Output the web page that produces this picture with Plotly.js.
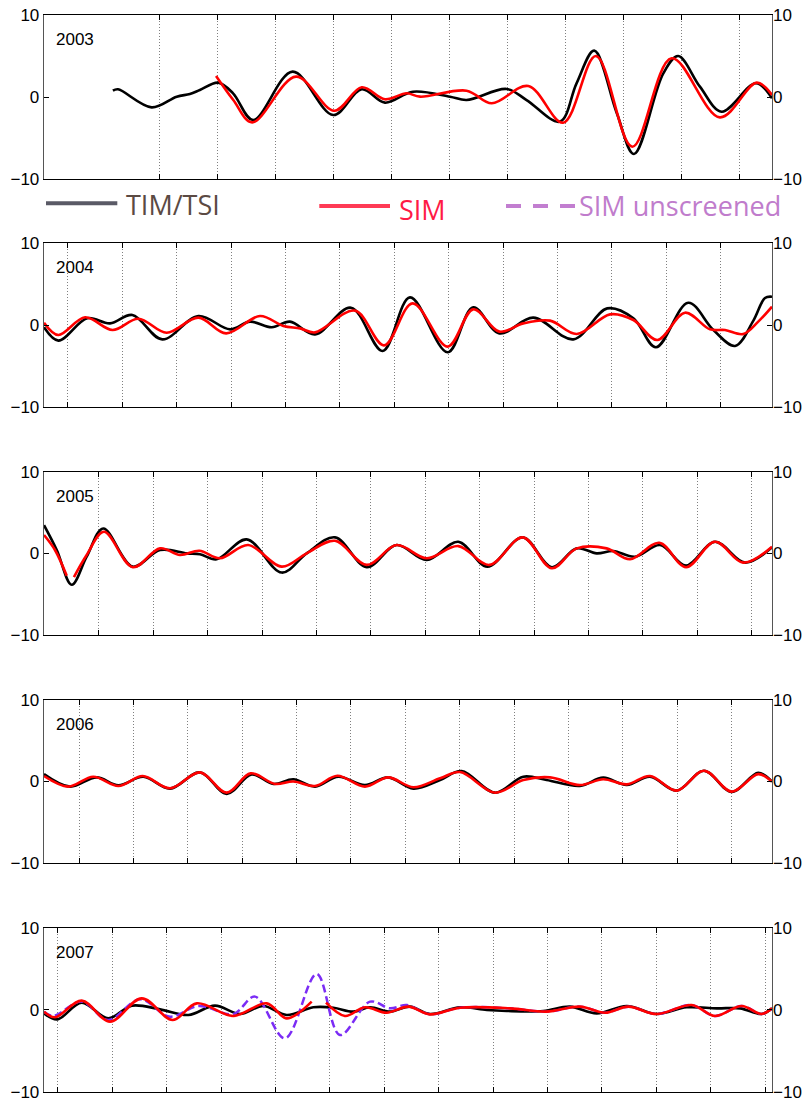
<!DOCTYPE html>
<html>
<head>
<meta charset="utf-8">
<script src="https://cdn.plot.ly/plotly-3.0.1.min.js"></script>
<style>
  html, body { margin: 0; padding: 0; background: #fff; }
  #chart { width: 805px; height: 1101px; }
</style>
</head>
<body>
<div id="chart"></div>
<script>
// Filtered irradiance residuals per year: TIM/TSI vs SIM (and unscreened SIM for 2007).
// x = day within the plotted window, y = residual.

const years = ['2003', '2004', '2005', '2006', '2007'];
const seriesNames = ['TIM/TSI', 'SIM', 'SIM unscreened'];
const yTickVals = [-10, 0, 10];
const yTickText = ['\u221210', '0', '10'];

// 2003
const timDays2003 = [32.4, 34.8, 50.6, 62.4, 68.6, 73.3, 81.9, 88.9, 98.3, 116.9, 136.0, 149.4, 160.3, 173.5, 190.9, 198.7, 217.5, 226.9, 242.6, 250.4, 258.7, 269.3, 277.4, 291.2, 298.2, 308.4, 318.6, 334.7, 342.3];
const timVals2003 = [0.77, 0.94, -1.26, 0.04, 0.37, 0.85, 1.75, 0.45, -2.8, 3.09, -2.2, 0.94, -0.69, 0.65, 0.04, -0.37, 0.98, -0.37, -3.0, 1.67, 5.65, -1.96, -6.95, 2.89, 5.0, 1.26, -1.79, 1.67, -0.16];
const simDays2003 = [80.9, 89.0, 97.9, 118.5, 136.5, 149.4, 160.3, 170.5, 176.8, 198.7, 210.5, 227.7, 244.1, 259.5, 276.6, 295.1, 317.8, 335.1, 342.3];
const simVals2003 = [2.56, -0.37, -3.09, 2.48, -1.67, 1.18, -0.28, 0.45, 0.04, 0.77, -0.77, 1.34, -3.13, 5.0, -6.06, 4.72, -2.48, 1.75, 0.24];

// 2004
const timDays2004 = [0, 7.2, 21.7, 33.1, 44.3, 59.3, 77.4, 93.3, 103.3, 114.2, 123.3, 135.9, 153.9, 169.8, 183.5, 202.4, 215.2, 228.3, 245.3, 265.4, 282.4, 295.5, 306.8, 323.0, 335.6, 346.5, 355.6, 361.5, 365];
const timVals2004 = [-0.28, -1.91, 0.82, 0.2, 1.22, -1.75, 1.1, -0.53, 0.41, -0.28, 0.41, -1.14, 2.11, -3.17, 3.37, -3.33, 2.16, -1.02, 0.9, -1.75, 2.03, 0.82, -2.72, 2.72, -0.61, -2.56, 0.5, 3.3, 3.45];
const simDays2004 = [0, 7.2, 20.6, 34.4, 47.3, 61.5, 77.4, 91.3, 108.3, 120.0, 128.4, 135.9, 155.9, 170.5, 184.8, 202.4, 215.2, 228.3, 240.3, 253.7, 267.1, 283.8, 295.5, 307.5, 321.4, 333.9, 341.4, 350.6, 358.1, 365];
const simVals2004 = [0.28, -1.22, 0.94, -0.61, 0.77, -0.94, 0.9, -1.02, 1.1, -0.12, -0.41, -0.9, 1.75, -2.48, 2.64, -2.64, 1.91, -0.81, 0.2, 0.53, -1.1, 1.3, 0.61, -1.83, 1.5, -0.53, -0.61, -1.1, 0.41, 2.24];

// 2005
const timDays2005 = [0, 6.4, 13.9, 21.4, 29.7, 44.5, 58.2, 71.6, 78.2, 86.6, 101.6, 119.2, 131.7, 145.9, 161.8, 176.8, 191.9, 207.7, 222.3, 240.0, 254.6, 267.1, 277.1, 285.4, 296.3, 308.9, 321.9, 336.4, 351.5, 365];
const timVals2005 = [3.48, 0.43, -3.84, -0.39, 3.07, -1.61, 0.43, 0.02, -0.1, -0.71, 1.73, -2.34, 0.02, 1.98, -1.68, 1.04, -0.79, 1.44, -1.61, 1.98, -1.68, 0.63, 0.02, 0.3, -0.39, 1.04, -1.49, 1.44, -1.12, 0.75];
const simDays2005 = [0, 5.5, 11.4, null, 15.0, 21.4, 30.1, 44.5, 58.2, 68.2, 77.9, 88.2, 102.4, 119.2, 131.7, 145.9, 161.8, 176.8, 191.9, 207.7, 223.3, 240.0, 254.6, 267.1, 282.1, 293.8, 308.5, 321.9, 336.4, 350.6, 365];
const simVals2005 = [2.26, 0.43, -2.74, null, -2.9, -0.18, 2.66, -1.68, 0.63, -0.18, 0.34, -0.59, 1.04, -1.61, 0.02, 1.56, -1.4, 1.04, -0.59, 0.91, -1.4, 1.98, -1.81, 0.63, 0.63, -0.71, 1.32, -1.68, 1.44, -1.12, 0.83];

// 2006
const timDays2006 = [0, 13.0, 26.4, 37.3, 49.8, 63.2, 78.2, 91.6, 104.1, 115.0, 125.0, 135.9, 147.6, 160.9, 172.6, 185.2, 198.6, 209.4, 226.1, 240.3, 252.0, 268.7, 280.4, 292.2, 303.8, 317.2, 330.9, 344.8, 358.1, 365];
const timVals2006 = [0.91, -0.63, 0.51, -0.46, 0.59, -0.87, 1.12, -1.52, 0.87, -0.3, 0.27, -0.63, 0.59, -0.43, 0.51, -0.87, 0.18, 1.28, -1.37, 0.59, 0.18, -0.55, 0.47, -0.43, 0.59, -1.12, 1.32, -1.28, 1.07, -0.02];
const simDays2006 = [0, 12.2, 24.7, 37.3, 49.5, 63.2, 78.2, 91.6, 103.6, 115.8, 125.0, 135.9, 147.1, 160.9, 172.6, 185.2, 198.6, 208.6, 226.1, 240.3, 253.7, 268.7, 280.4, 292.2, 303.8, 317.2, 330.9, 344.8, 358.1, 365];
const simVals2006 = [0.67, -0.63, 0.59, -0.55, 0.67, -0.83, 1.12, -1.37, 1.0, -0.3, 0.0, -0.55, 0.71, -0.63, 0.51, -0.71, 0.39, 1.16, -1.37, 0.18, 0.51, -0.43, 0.27, -0.35, 0.67, -1.12, 1.32, -1.24, 0.91, -0.02];

// 2007
const timDays2007 = [0, 6.7, 18.9, 32.2, 44.0, 58.2, 72.4, 85.7, 98.3, 110.0, 121.7, 135.0, 145.1, 155.1, 163.5, 173.5, 183.5, 193.5, 208.6, 222.0, 232.0, 250.3, 263.7, 277.1, 292.2, 307.2, 322.2, 337.3, 349.0, 359.8, 365];
const timVals2007 = [-0.41, -1.14, 0.89, -1.02, 0.53, 0.08, -0.61, 0.53, -0.49, 0.49, -0.61, 0.33, 0.28, -0.2, 0.33, -0.2, 0.41, -0.49, 0.33, 0.0, -0.12, -0.12, 0.41, -0.41, 0.49, -0.49, 0.33, 0.2, 0.2, -0.49, 0.2];
const simDays2007 = [0, 5.5, 18.9, 33.1, 49.0, 64.5, 76.6, 94.9, 111.7, 121.7, 134.2, null, 141.4, 150.9, 160.9, 171.8, 182.7, 193.5, 208.6, 233.6, 252.0, 268.7, 281.3, 293.0, 307.2, 324.7, 336.4, 349.8, 359.8, 365];
const simVals2007 = [-0.2, -0.89, 1.14, -1.42, 1.42, -1.22, 0.81, -0.73, 0.81, -1.02, 1.02, null, 0.89, -0.73, 0.33, -0.33, 0.41, -0.53, 0.28, 0.2, -0.2, 0.41, -0.33, 0.41, -0.49, 0.61, -0.73, 0.49, -0.49, 0.2];
const unscreenedDays2007 = [0, 4.7, 18.9, 32.2, 48.1, 63.2, 77.4, 94.9, 105.8, 120.8, 136.7, 148.4, 163.5, 173.5, 181.9, 193.5, 208.6, 233.6, 252.0, 268.7, 281.3, 293.0, 307.2, 324.7, 336.4, 349.8, 359.8, 365];
const unscreenedVals2007 = [-0.2, -0.73, 1.02, -1.22, 1.3, -0.81, 0.49, -0.49, 1.63, -3.46, 4.39, -3.05, 1.02, 0.2, 0.61, -0.53, 0.28, 0.2, -0.2, 0.41, -0.33, 0.41, -0.49, 0.61, -0.73, 0.49, -0.49, 0.2];

// solar-rotation tick spacing (days)
const ROTATION = 27.27;

const panels = [
  {tim: [timDays2003, timVals2003], sim: [simDays2003, simVals2003], range: [0, 342.3], firstTick: 54.5},
  {tim: [timDays2004, timVals2004], sim: [simDays2004, simVals2004], range: [0, 365], firstTick: 12.0},
  {tim: [timDays2005, timVals2005], sim: [simDays2005, simVals2005], range: [0, 365], firstTick: 0.3},
  {tim: [timDays2006, timVals2006], sim: [simDays2006, simVals2006], range: [0, 365], firstTick: 17.55},
  {tim: [timDays2007, timVals2007], sim: [simDays2007, simVals2007], range: [0, 365], firstTick: 7.0,
   unscreened: [unscreenedDays2007, unscreenedVals2007]}
];

// vertical extent of each panel (paper fractions)
const domains = [
  [0.84772, 1.0],
  [0.63603, 0.78830],
  [0.42433, 0.57567],
  [0.21262, 0.36397],
  [0.0, 0.15228]
];

const COLORS = {tim: '#000000', sim: '#ff0000', unscreened: '#7b2cf5'};
const tickFont = {family: 'Liberation Sans, Arial, sans-serif', size: 17, color: '#000'};

function rotationTicks(first, end) {
  const t = [];
  for (let v = first; v <= end; v += ROTATION) t.push(+v.toFixed(2));
  return t;
}

const traces = [];
const layout = {
  width: 805,
  height: 1101,
  margin: {l: 44, r: 33, t: 15, b: 9},
  paper_bgcolor: '#ffffff',
  plot_bgcolor: '#ffffff',
  showlegend: false,
  annotations: [],
  shapes: []
};

panels.forEach((p, i) => {
  const n = i + 1;
  const xs = n === 1 ? 'x' : 'x' + n;
  const ys = n === 1 ? 'y' : 'y' + n;
  const yr = 'y' + (n + 5);

  traces.push({
    x: p.tim[0], y: p.tim[1], xaxis: xs, yaxis: ys, type: 'scatter', mode: 'lines',
    name: seriesNames[0], line: {color: COLORS.tim, width: 2.6, shape: 'spline', smoothing: 1},
    connectgaps: false, hoverinfo: 'skip'
  });
  if (p.unscreened) {
    traces.push({
      x: p.unscreened[0], y: p.unscreened[1], xaxis: xs, yaxis: ys, type: 'scatter', mode: 'lines',
      name: seriesNames[2], line: {color: COLORS.unscreened, width: 2.5, dash: '8px,4px', shape: 'spline', smoothing: 1},
      hoverinfo: 'skip'
    });
  }
  traces.push({
    x: p.sim[0], y: p.sim[1], xaxis: xs, yaxis: yr, type: 'scatter', mode: 'lines',
    name: seriesNames[1], line: {color: COLORS.sim, width: 2.6, shape: 'spline', smoothing: 1},
    connectgaps: false, hoverinfo: 'skip'
  });

  layout['xaxis' + (n === 1 ? '' : n)] = {
    domain: [0, 1], anchor: ys, range: p.range,
    tickmode: 'array', tickvals: rotationTicks(p.firstTick, p.range[1]),
    ticks: 'inside', ticklen: 5, tickwidth: 1, tickcolor: '#000',
    showticklabels: false,
    showgrid: true, gridcolor: '#808080', gridwidth: 1, griddash: '1px,2px',
    showline: true, linecolor: '#000', linewidth: 1, mirror: 'ticks',
    zeroline: false, fixedrange: true
  };
  layout['yaxis' + (n === 1 ? '' : n)] = {
    domain: domains[i], anchor: xs, range: [-10, 10],
    tickmode: 'array', tickvals: yTickVals, ticktext: yTickText,
    ticks: 'inside', ticklen: 5, tickwidth: 1, tickcolor: '#000',
    tickfont: tickFont, ticklabeloverflow: 'allow',
    showgrid: false, zeroline: false,
    showline: true, linecolor: '#555', linewidth: 1.3, mirror: 'ticks',
    fixedrange: true
  };
  layout['yaxis' + (n + 5)] = {
    overlaying: ys, anchor: xs, side: 'right', range: [-10, 10],
    tickmode: 'array', tickvals: yTickVals, ticktext: yTickText,
    ticks: '', tickfont: tickFont, ticklabeloverflow: 'allow',
    showgrid: false, zeroline: false, showline: false, fixedrange: true
  };

  layout.annotations.push({
    text: years[i], xref: xs + ' domain', yref: ys + ' domain',
    x: 0.0137, y: 0.848, xanchor: 'left', yanchor: 'middle', showarrow: false,
    font: {family: 'Liberation Sans, Arial, sans-serif', size: 17, color: '#000'}
  });
});

// legend row between the first two panels
const legendFont = 'Open Sans, sans-serif';
layout.shapes.push(
  {type: 'line', xref: 'paper', yref: 'paper', x0: 0.00275, x1: 0.1007, y0: 0.82516, y1: 0.82516,
   line: {color: '#5a5a66', width: 4}},
  {type: 'line', xref: 'paper', yref: 'paper', x0: 0.37816, x1: 0.47527, y0: 0.82266, y1: 0.82266,
   line: {color: '#ff3a55', width: 4}},
  {type: 'line', xref: 'paper', yref: 'paper', x0: 0.63462, x1: 0.73173, y0: 0.82266, y1: 0.82266,
   line: {color: '#c27ed0', width: 4, dash: '15px,12px'}}
);
layout.annotations.push(
  {text: seriesNames[0], xref: 'paper', yref: 'paper', x: 0.1105, y: 0.82359, xanchor: 'left', yanchor: 'middle',
   showarrow: false, font: {family: legendFont, size: 27, color: '#5b4a43'}},
  {text: seriesNames[1], xref: 'paper', yref: 'paper', x: 0.4845, y: 0.81987, xanchor: 'left', yanchor: 'middle',
   showarrow: false, font: {family: legendFont, size: 27, color: '#ff1a45'}},
  {text: seriesNames[2], xref: 'paper', yref: 'paper', x: 0.7315, y: 0.82312, xanchor: 'left', yanchor: 'middle',
   showarrow: false, font: {family: legendFont, size: 27, color: '#c07ccc'}}
);

Plotly.newPlot('chart', traces, layout, {staticPlot: true, displayModeBar: false});
</script>
</body>
</html>
